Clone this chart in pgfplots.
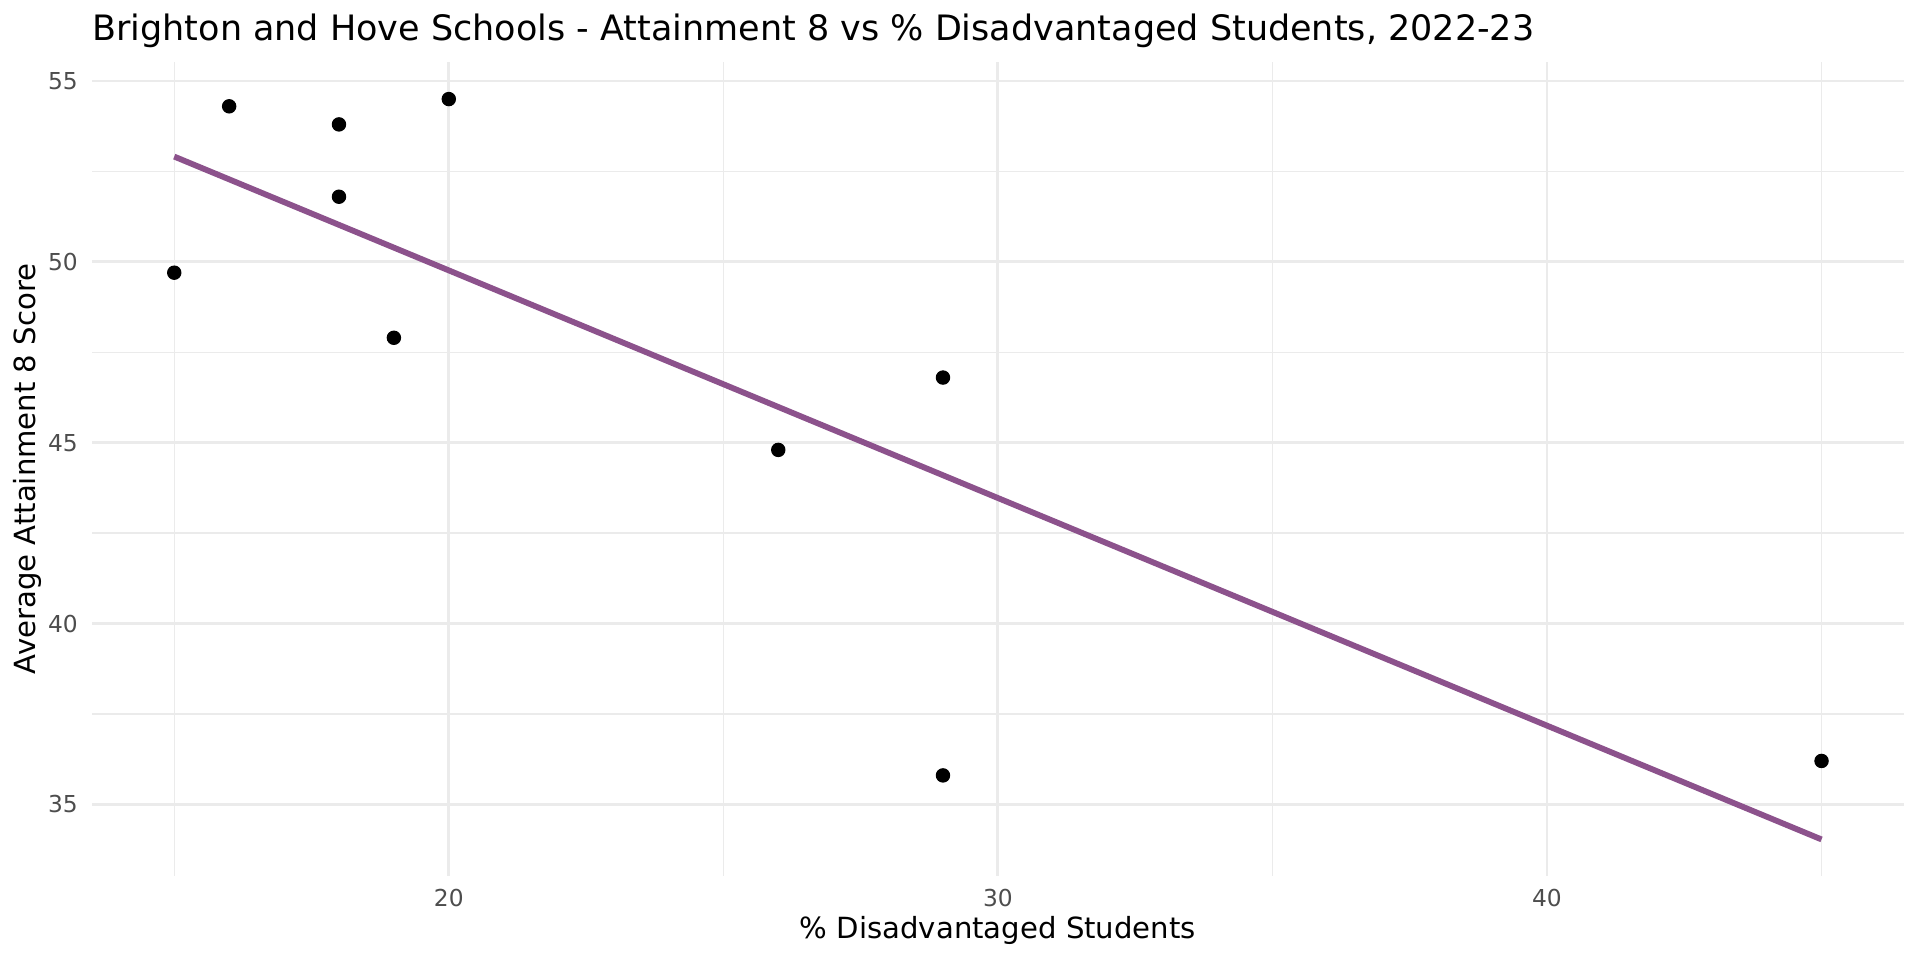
\documentclass[border=0pt]{standalone}
\usepackage{fontspec}
\setmainfont{DejaVu Sans}
\usepackage{pgfplots}
\pgfplotsset{compat=1.18}
\definecolor{gridc}{HTML}{EBEBEB}
\definecolor{tickc}{HTML}{4D4D4D}
\definecolor{linec}{HTML}{8C528C}
\begin{document}
\begin{tikzpicture}
\path[use as bounding box] (-33.1pt,-30.2pt) rectangle (658.5pt,315.4pt);
\begin{axis}[
 at={(0,0)}, anchor=south west, scale only axis,
 width=652.7pt, height=293pt,
 xmin=13.5, xmax=46.5, ymin=33.03, ymax=55.52,
 xtick={20,30,40}, minor xtick={15,25,35,45},
 ytick={35,40,45,50,55}, minor ytick={37.5,42.5,47.5,52.5},
 grid=both,
 major grid style={gridc, line width=1.02pt},
 minor grid style={gridc, line width=0.51pt},
 axis line style={draw=none},
 major tick length=0pt, minor tick length=0pt,
 /pgf/number format/assume math mode=true,
 tick label style={font=\fontsize{8.4}{10}\selectfont, text=tickc, inner sep=0pt},
 xticklabel style={anchor=north, yshift=-4.6pt},
 yticklabel style={anchor=east, xshift=-4.9pt},
 every axis title shift=0pt,
 title={Brighton and Hove Schools - Attainment 8 vs \% Disadvantaged Students, 2022-23},
 title style={at={(axis description cs:0,1.02696)}, anchor=base west, inner sep=0pt, font=\fontsize{12.6}{15}\selectfont},
 xlabel={\% Disadvantaged Students},
 xlabel style={at={(axis description cs:0.5,-0.07713)}, anchor=base, inner sep=0pt, font=\fontsize{10.5}{12}\selectfont},
 ylabel={Average Attainment 8 Score},
 ylabel style={at={(axis description cs:-0.03095,0.5)}, anchor=base, inner sep=0pt, font=\fontsize{10.5}{12}\selectfont},
 clip=false,
]
\addplot[only marks, mark=*, mark size=2.4pt, black] coordinates {
 (15,49.7) (16,54.3) (18,53.8) (18,51.8) (19,47.9) (20,54.5)
 (26,44.8) (29,46.8) (29,35.8) (45,36.2)
};
\addplot[linec, line width=2.1pt] coordinates {(15,52.91) (45,34.03)};
\end{axis}
\end{tikzpicture}
\end{document}
